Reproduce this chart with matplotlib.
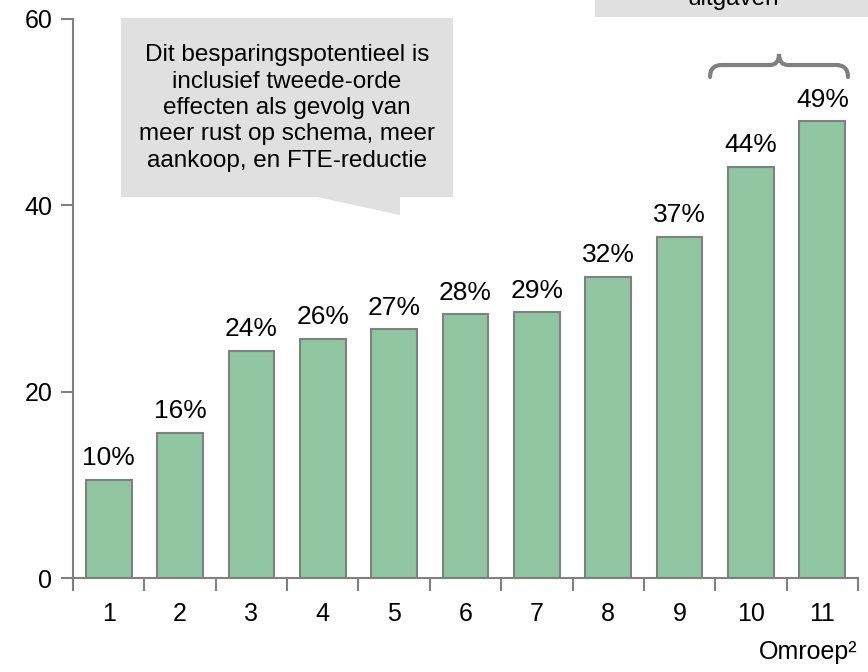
import numpy as np
import matplotlib
matplotlib.use('Agg')
import matplotlib.pyplot as plt
from matplotlib.patches import Polygon, Rectangle, PathPatch
from matplotlib.path import Path

plt.rcParams['font.family'] = ['Liberation Sans', 'DejaVu Sans']

## Data
omroepen = ['1', '2', '3', '4', '5', '6', '7', '8', '9', '10', '11']
besparing = [10.5, 15.6, 24.4, 25.7, 26.7, 28.3, 28.5, 32.3, 36.6, 44.1, 49.0]
labels = ['10%', '16%', '24%', '26%', '27%', '28%', '29%', '32%', '37%', '44%', '49%']
yticks = [0, 20, 40, 60]

W, H = 868, 672
grey = '#808080'
box_grey = '#e0e0e0'


def px(x, y):
    # pixel (from top-left) -> figure fraction
    return x / W, 1 - y / H


fig = plt.figure(figsize=(W / 100, H / 100), dpi=100)
ax = fig.add_axes([73 / W, 1 - 578 / H, (858 - 73) / W, (578 - 19) / H])

x = np.arange(1, len(omroepen) + 1)
bars = ax.bar(x, besparing, width=0.64, color='#8fc5a0', edgecolor=grey, linewidth=1.5)
ax.bar_label(bars, labels=labels, padding=7, fontsize=19, color='black')

ax.set_xlim(0.5, len(omroepen) + 0.5)
ax.set_ylim(0, 60)
ax.set_yticks(yticks)
ax.set_xticks(x)
ax.set_xticklabels(omroepen)
ax.set_xticks(np.arange(0.5, len(omroepen) + 1), minor=True)
ax.tick_params(axis='x', which='major', length=0, pad=17, labelsize=18)
ax.tick_params(axis='x', which='minor', length=9, width=1.5, color=grey, direction='out')
ax.tick_params(axis='y', length=9, width=1.5, color=grey, labelsize=18, pad=6)

for s in ['top', 'right']:
    ax.spines[s].set_visible(False)
for s in ['left', 'bottom']:
    ax.spines[s].set_color(grey)
    ax.spines[s].set_linewidth(1.5)

# x-axis title
fig.text(858 / W, 1 - 652 / H, 'Omroep\u00b2', ha='right', va='center', fontsize=18)

# callout box with tail
box = Polygon([px(121, 18), px(453, 18), px(453, 197), px(400, 197), px(400, 215),
               px(317, 197), px(121, 197)], closed=True, transform=fig.transFigure,
              facecolor=box_grey, edgecolor='none', zorder=5)
fig.add_artist(box)
fig.text(*px(287, 108), 'Dit besparingspotentieel is\ninclusief tweede-orde\neffecten als gevolg van\n'
         'meer rust op schema, meer\naankoop, en FTE-reductie',
         ha='center', va='center', fontsize=17.5, linespacing=1.25, zorder=6)

# box at top right (cut off by the picture edge)
top_box = Rectangle(px(595, 17), (868 - 595) / W, 30 / H, transform=fig.transFigure,
                    facecolor=box_grey, edgecolor='none', zorder=5)
fig.add_artist(top_box)
fig.text(*px(733, 5), 'uitgaven', ha='center', va='baseline', fontsize=17.5, zorder=6)

# brace above bars 10-11
verts = [px(710, 77), px(710, 65), px(722, 65), px(722, 65),
         px(770, 65), px(779, 65), px(779, 54),
         px(779, 65), px(788, 65), px(836, 65),
         px(848, 65), px(848, 77)]
codes = [Path.MOVETO, Path.CURVE3, Path.CURVE3, Path.LINETO,
         Path.LINETO, Path.CURVE3, Path.CURVE3,
         Path.CURVE3, Path.CURVE3, Path.LINETO,
         Path.CURVE3, Path.CURVE3]
brace = PathPatch(Path(verts, codes), transform=fig.transFigure, facecolor='none',
                  edgecolor=grey, linewidth=3, capstyle='round')
fig.add_artist(brace)

fig.savefig('out.png', dpi=100)
